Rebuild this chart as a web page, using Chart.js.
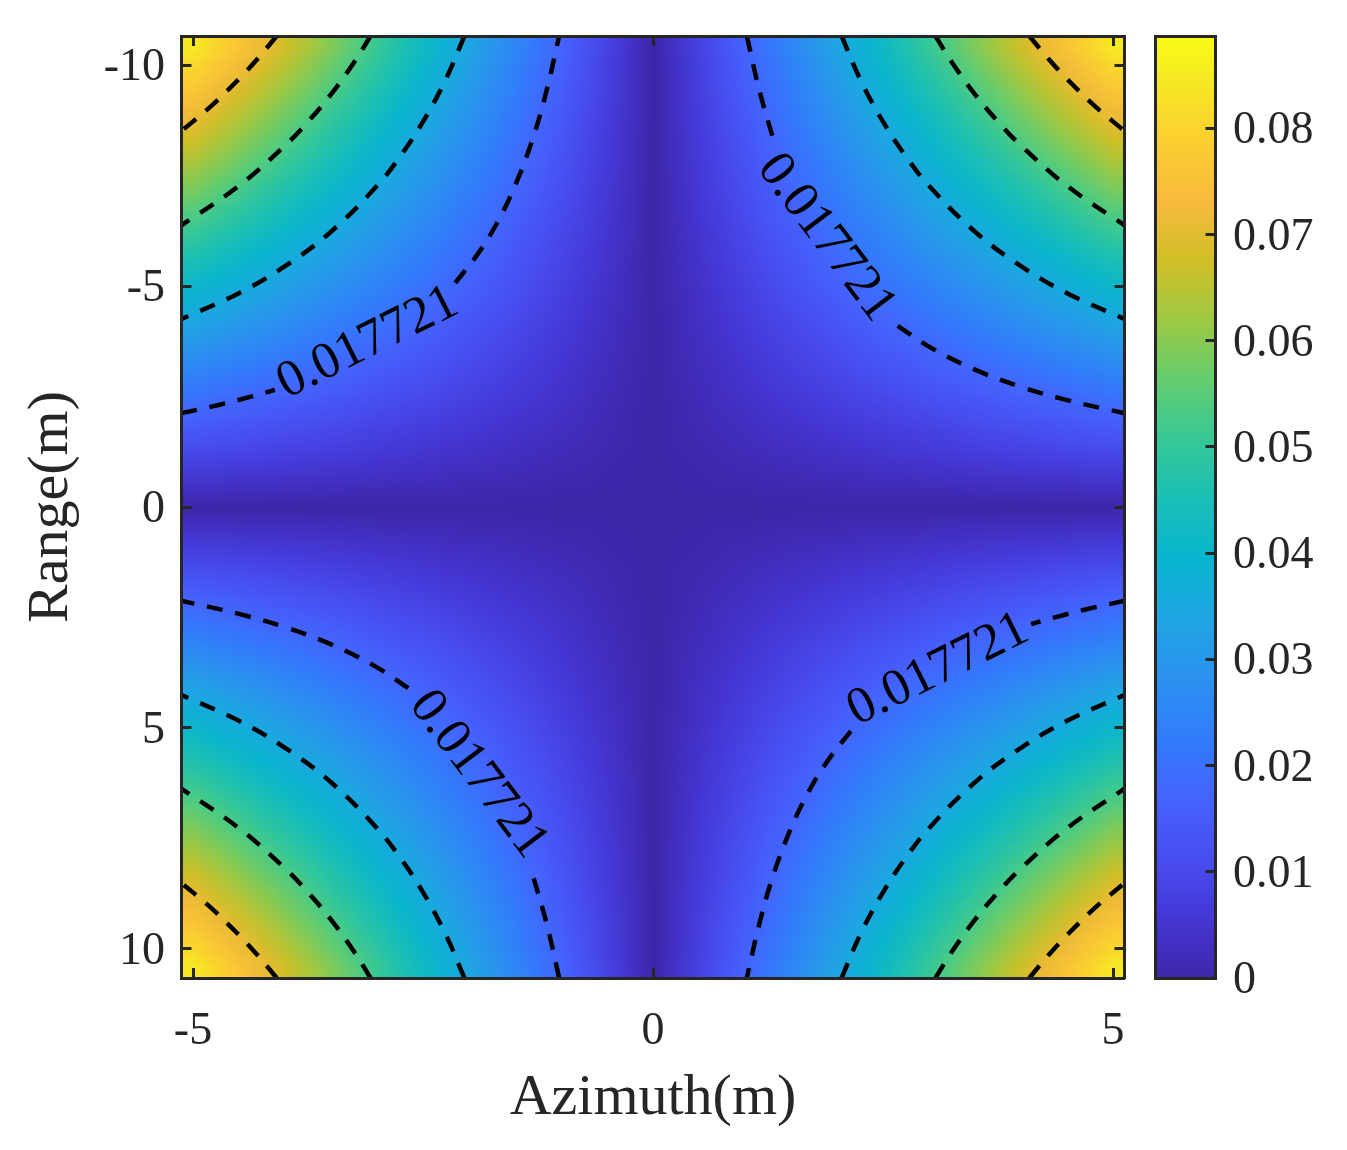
<!DOCTYPE html>
<html>
<head>
<meta charset="utf-8">
<title>Azimuth / Range</title>
<script src="https://cdn.jsdelivr.net/npm/chart.js@4/dist/chart.umd.min.js"></script>
<style>
  body { margin: 0; background: #fff; }
  canvas { position: absolute; left: 0; top: 0; }
</style>
</head>
<body>
<canvas id="mapChart" width="1347" height="1150"></canvas>
<canvas id="barChart" width="1347" height="1150"></canvas>
<script>
// Cell centres
const azimuthCells = [-5,-4.75,-4.5,-4.25,-4,-3.75,-3.5,-3.25,-3,-2.75,-2.5,-2.25,-2,-1.75,-1.5,-1.25,-1,-0.75,-0.5,-0.25,0,0.25,0.5,0.75,1,1.25,1.5,1.75,2,2.25,2.5,2.75,3,3.25,3.5,3.75,4,4.25,4.5,4.75,5];
const rangeCells = [-10.4,-9.88,-9.36,-8.84,-8.32,-7.8,-7.28,-6.76,-6.24,-5.72,-5.2,-4.68,-4.16,-3.64,-3.12,-2.6,-2.08,-1.56,-1.04,-0.52,0,0.52,1.04,1.56,2.08,2.6,3.12,3.64,4.16,4.68,5.2,5.72,6.24,6.76,7.28,7.8,8.32,8.84,9.36,9.88,10.4];

// Cell values, in 1e-4. The picture mirrors on both axes,
// so rows are |range| step and columns are |azimuth| step.
const cellRows = [
  [0,0,0,0,0,0,0,0,0,0,0,0,0,0,0,0,0,0,0,0,0],
  [0,2,4,6,8,11,13,15,17,19,21,23,25,27,30,32,34,36,38,40,42],
  [0,4,8,13,17,21,25,30,34,38,42,46,51,55,59,63,67,72,76,80,84],
  [0,6,13,19,25,32,38,44,51,57,63,70,76,82,89,95,101,108,114,120,127],
  [0,8,17,25,34,42,51,59,67,76,84,93,101,110,118,127,135,143,152,160,169],
  [0,11,21,32,42,53,63,74,84,95,105,116,127,137,148,158,169,179,190,200,211],
  [0,13,25,38,51,63,76,89,101,114,127,139,152,165,177,190,202,215,228,240,253],
  [0,15,30,44,59,74,89,103,118,133,148,162,177,192,207,221,236,251,266,280,295],
  [0,17,34,51,67,84,101,118,135,152,169,186,202,219,236,253,270,287,304,321,337],
  [0,19,38,57,76,95,114,133,152,171,190,209,228,247,266,285,304,323,342,361,380],
  [0,21,42,63,84,105,127,148,169,190,211,232,253,274,295,316,337,359,380,401,422],
  [0,23,46,70,93,116,139,162,186,209,232,255,278,302,325,348,371,394,418,441,464],
  [0,25,51,76,101,127,152,177,202,228,253,278,304,329,354,380,405,430,456,481,506],
  [0,27,55,82,110,137,165,192,219,247,274,302,329,356,384,411,439,466,494,521,548],
  [0,30,59,89,118,148,177,207,236,266,295,325,354,384,413,443,472,502,531,561,591],
  [0,32,63,95,127,158,190,221,253,285,316,348,380,411,443,475,506,538,569,601,633],
  [0,34,67,101,135,169,202,236,270,304,337,371,405,439,472,506,540,574,607,641,675],
  [0,36,72,108,143,179,215,251,287,323,359,394,430,466,502,538,574,609,645,681,717],
  [0,38,76,114,152,190,228,266,304,342,380,418,456,494,531,569,607,645,683,721,759],
  [0,40,80,120,160,200,240,280,321,361,401,441,481,521,561,601,641,681,721,761,801],
  [0,42,84,127,169,211,253,295,337,380,422,464,506,548,591,633,675,717,759,801,844]
];

// Contours as [|azimuth|, |range|]; level 1 is split where the labels sit
const levelOneEdgeShort = [[5.13,2.12],[4.7,2.32],[4.4,2.48],[4.11,2.65]];
const levelOneTopLong = [[2.15,5.07],[1.9,5.74],[1.7,6.41],[1.5,7.27],[1.3,8.38],[1.15,9.48],[1.02,10.66]];
const levelOneTopShort = [[1.02,10.66],[1.15,9.48],[1.3,8.38]];
const levelOneEdgeLong = [[2.66,4.1],[3,3.63],[3.5,3.11],[4,2.72],[4.5,2.42],[5.13,2.12]];
const levelTwo = [[2.05,10.66],[2.25,9.69],[2.5,8.72],[2.75,7.93],[3,7.27],[3.5,6.23],[4,5.45],[4.5,4.84],[5.13,4.25]];
const levelThree = [[3.07,10.66],[3.25,10.06],[3.5,9.34],[3.75,8.72],[4,8.18],[4.5,7.27],[5.13,6.37]];
const levelFour = [[4.09,10.66],[4.3,10.14],[4.5,9.69],[4.8,9.08],[5.13,8.5]];

const labelText = '0.017721';
const labelAzimuth = [-3.10, 1.88, -1.90, 3.10];
const labelRange = [-3.71, -6.09, 6.06, 3.69];
const labelAngle = [-26.5, 53, 53, -26.5];

const azimuthTicks = [-5, 0, 5];
const rangeTicks = [-10, -5, 0, 5, 10];
const barTicks = [0, 0.01, 0.02, 0.03, 0.04, 0.05, 0.06, 0.07, 0.08];
const barMax = 0.0887;

// Parula, every 4th of 64 levels
const parula = ['#3e26a8','#4537d5','#484df0','#4563fd','#327cfc','#2b91ef','#20a5e3','#08b5d0','#19bfb6','#37c897','#64cd6f','#9dc943','#d1bf27','#f8ba3d','#fccf30','#f5e924','#f9fb15'];

const inkColor = '#262626';
const serif = 'Liberation Serif';

function hexToRgb(hex) {
    return [1, 3, 5].map(i => parseInt(hex.substr(i, 2), 16));
}

function stopOffset(i) {
    return Math.min(1, i * 4 / 63);
}

function colorFor(v) {
    const pos = Math.min(1, v / barMax) * 63 / 4;
    const i = Math.min(parula.length - 2, Math.floor(pos));
    const f = Math.min(1, (Math.min(1, v / barMax) - stopOffset(i)) / (stopOffset(i + 1) - stopOffset(i)));
    const a = hexToRgb(parula[i]), b = hexToRgb(parula[i + 1]);
    return `rgb(${a.map((c, k) => Math.round(c + (b[k] - c) * f)).join(',')})`;
}

function mirrored(points, sx, sy) {
    return points.map(p => ({ x: p[0] * sx, y: p[1] * sy }));
}

function contourSet(points, sx, sy) {
    return {
        type: 'scatter',
        data: mirrored(points, sx, sy),
        showLine: true,
        tension: 0.4,
        pointRadius: 0,
        borderColor: '#000',
        borderWidth: 4.5,
        borderDash: [16, 13],
        order: 1
    };
}

const cellPoints = [];
rangeCells.forEach((y, r) => {
    azimuthCells.forEach((x, c) => {
        cellPoints.push({ x: x, y: y, v: cellRows[Math.abs(r - 20)][Math.abs(c - 20)] / 10000 });
    });
});

const contourSets = [];
[[-1, -1], [1, 1]].forEach(q => {
    contourSets.push(contourSet(levelOneEdgeShort, q[0], q[1]), contourSet(levelOneTopLong, q[0], q[1]));
});
[[1, -1], [-1, 1]].forEach(q => {
    contourSets.push(contourSet(levelOneTopShort, q[0], q[1]), contourSet(levelOneEdgeLong, q[0], q[1]));
});
[[-1, -1], [1, -1], [-1, 1], [1, 1]].forEach(q => {
    [levelTwo, levelThree, levelFour].forEach(level => contourSets.push(contourSet(level, q[0], q[1])));
});

// Blends the library's cells like MATLAB's interpolated shading
const smoothCells = {
    id: 'smoothCells',
    afterDatasetDraw(chart, args) {
        if (args.index !== 0) return;
        const a = chart.chartArea, r = chart.currentDevicePixelRatio;
        const small = document.createElement('canvas');
        small.width = azimuthCells.length;
        small.height = rangeCells.length;
        const s = small.getContext('2d');
        s.imageSmoothingEnabled = false;
        s.drawImage(chart.canvas, a.left * r, a.top * r, a.width * r, a.height * r, 0, 0, small.width, small.height);
        chart.ctx.save();
        chart.ctx.imageSmoothingEnabled = true;
        chart.ctx.drawImage(small, a.left, a.top, a.width, a.height);
        chart.ctx.restore();
    }
};

const contourLabels = {
    id: 'contourLabels',
    afterDatasetsDraw(chart) {
        const ctx = chart.ctx;
        ctx.save();
        ctx.font = `52px "${serif}"`;
        ctx.fillStyle = '#000';
        ctx.textAlign = 'center';
        ctx.textBaseline = 'middle';
        labelAzimuth.forEach((x, i) => {
            ctx.save();
            ctx.translate(chart.scales.x.getPixelForValue(x), chart.scales.y.getPixelForValue(labelRange[i]));
            ctx.rotate(labelAngle[i] * Math.PI / 180);
            ctx.fillText(labelText, 0, 0);
            ctx.restore();
        });
        ctx.restore();
    }
};

// Fixes the axis box so the plot frame lands where the reference has it
function fixBox(s, size) {
    if (s.isHorizontal()) s.height = size; else s.width = size;
    s.paddingLeft = s.paddingRight = s.paddingTop = s.paddingBottom = 0;
}

function frameAxis(size, ticks, extra) {
    const axis = {
        afterFit: s => fixBox(s, size),
        afterBuildTicks(s) {
            s.ticks = ticks.map(v => ({ value: v }));
        },
        border: { display: true, color: inkColor, width: 3, z: 2 },
        grid: { drawOnChartArea: false, drawTicks: true, tickLength: -10, tickWidth: 3, tickColor: inkColor, z: 2 },
        ticks: { display: false }
    };
    return Object.assign(axis, extra);
}

function bareAxis(size, extra) {
    return Object.assign({
        afterFit: s => fixBox(s, size),
        border: { display: true, color: inkColor, width: 3, z: 2 },
        grid: { display: false },
        ticks: { display: false }
    }, extra);
}

function tickLabels(padding, labelOffset) {
    return {
        display: true,
        autoSkip: false,
        maxRotation: 0,
        padding: padding,
        labelOffset: labelOffset,
        color: inkColor,
        font: { family: serif, size: 46 },
        callback: v => String(v)
    };
}

function titleOf(text, padding) {
    return { display: true, text: text, color: inkColor, font: { family: serif, size: 58 }, padding: padding };
}

new Chart(document.getElementById('mapChart'), {
    type: 'scatter',
    data: {
        datasets: [{
            data: cellPoints,
            pointStyle: 'rect',
            pointRadius: 17,
            pointBorderWidth: 0,
            pointBackgroundColor: c => colorFor(c.raw.v),
            order: 10
        }].concat(contourSets)
    },
    plugins: [smoothCells, contourLabels],
    options: {
        responsive: false,
        animation: false,
        events: [],
        plugins: { legend: { display: false }, tooltip: { enabled: false } },
        scales: {
            x: frameAxis(172, azimuthTicks, {
                type: 'linear', position: 'bottom', min: -5.125, max: 5.125,
                ticks: tickLabels(36, 0),
                title: titleOf('Azimuth(m)', { top: 0, bottom: 16 })
            }),
            xTop: frameAxis(36, azimuthTicks, { type: 'linear', axis: 'x', position: 'top', min: -5.125, max: 5.125 }),
            y: frameAxis(181.5, rangeTicks, {
                type: 'linear', position: 'left', reverse: true, min: -10.66, max: 10.66,
                ticks: tickLabels(26.5, 3),
                title: titleOf('Range(m)', { top: 17, bottom: 0 })
            }),
            yRight: frameAxis(222.5, rangeTicks, { type: 'linear', axis: 'y', position: 'right', reverse: true, min: -10.66, max: 10.66 })
        }
    }
});

new Chart(document.getElementById('barChart'), {
    type: 'bar',
    data: {
        labels: ['colorbar'],
        datasets: [{
            data: [[0, barMax]],
            barPercentage: 1,
            categoryPercentage: 1,
            backgroundColor(c) {
                const a = c.chart.chartArea;
                if (!a) return parula[0];
                const g = c.chart.ctx.createLinearGradient(0, a.bottom, 0, a.top);
                parula.forEach((col, i) => g.addColorStop(stopOffset(i), col));
                return g;
            }
        }]
    },
    options: {
        responsive: false,
        animation: false,
        events: [],
        plugins: { legend: { display: false }, tooltip: { enabled: false } },
        scales: {
            x: bareAxis(172, { position: 'bottom' }),
            xTop: bareAxis(36, { type: 'category', axis: 'x', position: 'top' }),
            y: frameAxis(131.5, barTicks, {
                position: 'right', min: 0, max: barMax,
                ticks: tickLabels(27.5, 3)
            }),
            yLeft: bareAxis(1155.5, { type: 'linear', axis: 'y', position: 'left', min: 0, max: barMax })
        }
    }
});
</script>
</body>
</html>
